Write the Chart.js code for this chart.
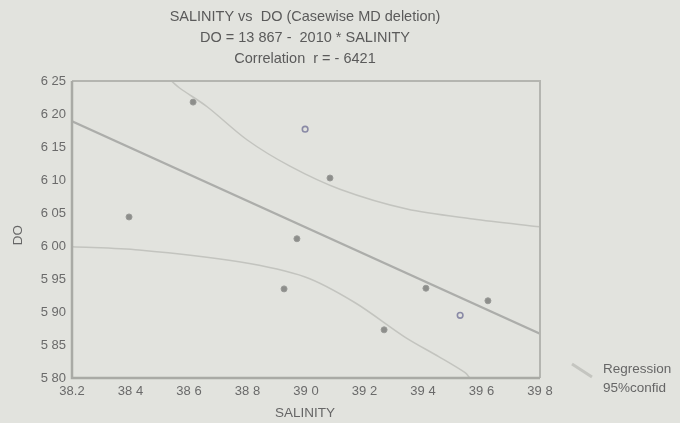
<!DOCTYPE html>
<html>
<head>
<meta charset="utf-8">
<script src="https://cdn.jsdelivr.net/npm/chart.js@4.4.1/dist/chart.umd.min.js"></script>
<style>
  html, body { margin:0; padding:0; background:#e2e3de; }
  #wrap { width:680px; height:423px; position:relative; }
</style>
</head>
<body>
<div id="wrap"><canvas id="c" width="680" height="423"></canvas></div>
<script>
// ---- data ----
const titleLines = ['SALINITY vs  DO (Casewise MD deletion)', 'DO = 13 867 -  2010 * SALINITY', 'Correlation  r = - 6421'];
const xTickValues = [38.2, 38.4, 38.6, 38.8, 39.0, 39.2, 39.4, 39.6, 39.8];
const xTickLabels = ['38.2', '38 4', '38 6', '38 8', '39 0', '39 2', '39 4', '39 6', '39 8'];
const yTickValues = [5.80, 5.85, 5.90, 5.95, 6.00, 6.05, 6.10, 6.15, 6.20, 6.25];
const yTickLabels = ['5 80', '5 85', '5 90', '5 95', '6 00', '6 05', '6 10', '6 15', '6 20', '6 25'];

const filledX = [38.395, 38.614, 39.082, 38.969, 38.925, 39.410, 39.622, 39.267];
const filledY = [6.044, 6.218, 6.103, 6.011, 5.935, 5.936, 5.917, 5.873];
const openX = [38.997, 39.527];
const openY = [6.177, 5.895];

const regX = [38.2, 39.8];
const regY = [6.189, 5.867];

const upperX = [38.54, 38.569, 38.662, 38.798, 38.945, 39.116, 39.345, 39.571, 39.8];
const upperY = [6.250, 6.239, 6.211, 6.161, 6.121, 6.086, 6.056, 6.041, 6.029];
const lowerX = [38.2, 38.429, 38.771, 38.997, 39.168, 39.338, 39.455, 39.544, 39.56];
const lowerY = [5.999, 5.994, 5.976, 5.953, 5.914, 5.862, 5.832, 5.808, 5.800];

const legendLabels = ['Regression', '95%confid'];

const pts = (xs, ys) => xs.map((x, i) => ({x: x, y: ys[i]}));
const FONT = '"Liberation Sans", Arial, sans-serif';

const decor = {
  id: 'decor',
  beforeDraw(chart) {
    const ctx = chart.ctx;
    ctx.save();
    ctx.fillStyle = '#e2e3de';
    ctx.fillRect(0, 0, chart.width, chart.height);
    ctx.restore();
  },
  afterDraw(chart) {
    const ctx = chart.ctx, a = chart.chartArea;
    ctx.save();
    // frame
    ctx.strokeStyle = '#b4b5b0';
    ctx.lineWidth = 2;
    ctx.beginPath();
    ctx.moveTo(a.left, a.top); ctx.lineTo(a.right, a.top); ctx.lineTo(a.right, a.bottom);
    ctx.stroke();
    ctx.strokeStyle = '#a9aaa5';
    ctx.lineWidth = 2.5;
    ctx.beginPath();
    ctx.moveTo(a.left, a.top); ctx.lineTo(a.left, a.bottom); ctx.lineTo(a.right, a.bottom);
    ctx.stroke();
    // titles
    ctx.fillStyle = '#5a5a5a';
    ctx.font = '14.5px ' + FONT;
    ctx.textAlign = 'center';
    ctx.textBaseline = 'middle';
    const ty = [17, 38, 59];
    titleLines.forEach((t, i) => ctx.fillText(t, 305, ty[i]));
    // axis titles
    ctx.fillStyle = '#666666';
    ctx.font = '13.5px ' + FONT;
    ctx.fillText('SALINITY', 305, 413);
    ctx.save();
    ctx.translate(18, 235);
    ctx.rotate(-Math.PI / 2);
    ctx.fillText('DO', 0, 0);
    ctx.restore();
    // legend
    ctx.strokeStyle = '#c4c5c0';
    ctx.lineWidth = 3;
    ctx.beginPath();
    ctx.moveTo(572, 364); ctx.lineTo(592, 377);
    ctx.stroke();
    ctx.fillStyle = '#666666';
    ctx.textAlign = 'left';
    ctx.font = '13.5px ' + FONT;
    ctx.fillText(legendLabels[0], 603, 369);
    ctx.fillText(legendLabels[1], 603, 388);
    ctx.restore();
  }
};

new Chart(document.getElementById('c'), {
  type: 'scatter',
  data: {
    datasets: [
      { data: pts(upperX, upperY), showLine: true, borderColor: '#c3c4bf', borderWidth: 1.5, pointRadius: 0, tension: 0.3, fill: false },
      { data: pts(lowerX, lowerY), showLine: true, borderColor: '#c3c4bf', borderWidth: 1.5, pointRadius: 0, tension: 0.3, fill: false },
      { data: pts(regX, regY), showLine: true, borderColor: '#acadaa', borderWidth: 2.4, pointRadius: 0, fill: false },
      { data: pts(filledX, filledY), backgroundColor: '#8d8e8b', borderColor: '#9a9b98', borderWidth: 1, pointRadius: 3 },
      { data: pts(openX, openY), backgroundColor: 'rgba(0,0,0,0)', borderColor: '#8a8aa6', borderWidth: 1.6, pointRadius: 2.8 }
    ]
  },
  options: {
    responsive: false,
    animation: false,
    layout: { padding: { top: 81, left: 0, right: 140, bottom: 0 } },
    plugins: { legend: { display: false }, title: { display: false }, tooltip: { enabled: false } },
    scales: {
      x: {
        type: 'linear', min: 38.2, max: 39.8,
        afterBuildTicks: (s) => { s.ticks = xTickValues.map(v => ({value: v})); },
        afterFit: (s) => { s.height = 45; },
        grid: { display: false, drawTicks: false },
        border: { display: false },
        ticks: {
          padding: 6, color: '#6a6a6a', maxRotation: 0, autoSkip: false,
          font: { family: FONT, size: 13 },
          callback: (v) => { const i = xTickValues.findIndex(t => Math.abs(t - v) < 1e-6); return i >= 0 ? xTickLabels[i] : ''; }
        }
      },
      y: {
        type: 'linear', min: 5.8, max: 6.25,
        afterBuildTicks: (s) => { s.ticks = yTickValues.map(v => ({value: v})); },
        afterFit: (s) => { s.width = 72; },
        grid: { display: false, drawTicks: false },
        border: { display: false },
        ticks: {
          padding: 6, color: '#6a6a6a', autoSkip: false,
          font: { family: FONT, size: 13 },
          callback: (v) => { const i = yTickValues.findIndex(t => Math.abs(t - v) < 1e-6); return i >= 0 ? yTickLabels[i] : ''; }
        }
      }
    }
  },
  plugins: [decor]
});
</script>
</body>
</html>
